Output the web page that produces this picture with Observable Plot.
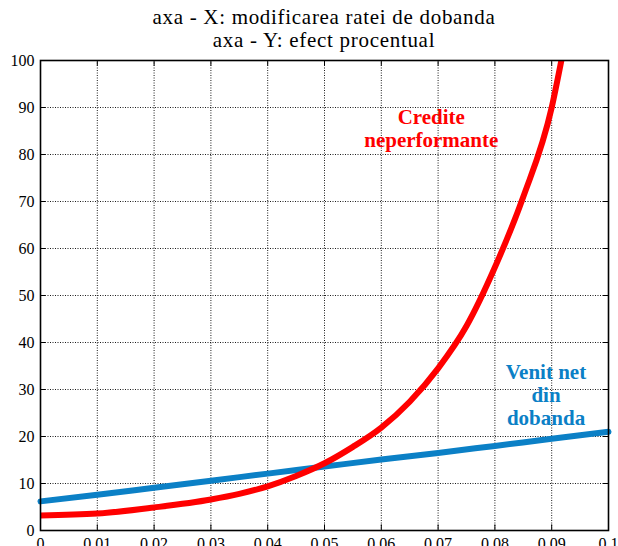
<!DOCTYPE html>
<html><head><meta charset="utf-8">
<script src="https://cdn.jsdelivr.net/npm/d3@7"></script>
<script src="https://cdn.jsdelivr.net/npm/@observablehq/plot@0.6"></script>
<style>
body{margin:0;background:#fff;}
#title{font-family:"Liberation Serif","DejaVu Serif","Times New Roman",serif;font-size:21px;letter-spacing:0.7px;line-height:23px;text-align:center;color:#000;padding-top:6px;padding-left:30px;height:46px;}
</style></head><body>
<div id="title">axa - X: modificarea ratei de dobanda<br>axa - Y: efect procentual</div>
<div id="chart"></div>
<script>
const titleLines = ["axa - X: modificarea ratei de dobanda", "axa - Y: efect procentual"];
const xTicks = [0, 0.01, 0.02, 0.03, 0.04, 0.05, 0.06, 0.07, 0.08, 0.09, 0.1];
const xTickLabels = ["0", "0.01", "0.02", "0.03", "0.04", "0.05", "0.06", "0.07", "0.08", "0.09", "0.1"];
const yTicks = [0, 10, 20, 30, 40, 50, 60, 70, 80, 90, 100];

// Credite neperformante (red)
const creditX = [0, 0.01, 0.02, 0.03, 0.035, 0.04, 0.045, 0.05, 0.055, 0.06, 0.065, 0.07, 0.075, 0.08, 0.085, 0.09, 0.0917];
const creditY = [3.2, 3.6, 4.9, 6.6, 7.8, 9.4, 11.6, 14.3, 17.8, 21.9, 27.4, 34.5, 43.5, 56, 71, 90, 100];

// Venit net din dobanda (blue)
const venitX = [0, 0.01, 0.02, 0.03, 0.04, 0.05, 0.06, 0.07, 0.08, 0.09, 0.1];
const venitY = [6.2, 7.6, 9.1, 10.6, 12.1, 13.6, 15.1, 16.5, 18.0, 19.5, 21.0];

const labels = [
  {x: 0.0688, y: 89.9, text: "Credite\nneperformante", color: "#ff0000"},
  {x: 0.089, y: 35.6, text: "Venit net\ndin\ndobanda", color: "#0b80c6"}
];

const credit = creditX.map((x, i) => ({x, y: creditY[i]}));
const venit = venitX.map((x, i) => ({x, y: venitY[i]}));
const serif = "'Liberation Serif','DejaVu Serif','Times New Roman',serif";

const plot = Plot.plot({
  width: 618,
  height: 494,
  marginLeft: 40,
  marginRight: 10,
  marginTop: 8,
  marginBottom: 16,
  style: {fontFamily: serif, fontSize: "16px", color: "#000", background: "#fff"},
  x: {domain: [0, 0.1], label: null},
  y: {domain: [0, 100], label: null},
  marks: [
    Plot.gridX(xTicks, {stroke: "#000", strokeOpacity: 1, strokeDasharray: "1,1.5", strokeWidth: 0.9}),
    Plot.gridY(yTicks, {stroke: "#000", strokeOpacity: 1, strokeDasharray: "1,1.5", strokeWidth: 0.9}),
    Plot.ruleX(xTicks, {x: d => d, y1: 0, y2: 1.2, stroke: "#000", strokeWidth: 1}),
    Plot.ruleX(xTicks, {x: d => d, y1: 98.8, y2: 100, stroke: "#000", strokeWidth: 1}),
    Plot.ruleY(yTicks, {y: d => d, x1: 0, x2: 0.0009, stroke: "#000", strokeWidth: 1}),
    Plot.ruleY(yTicks, {y: d => d, x1: 0.0991, x2: 0.1, stroke: "#000", strokeWidth: 1}),
    Plot.line(venit, {x: "x", y: "y", stroke: "#0b80c6", strokeWidth: 6, curve: "monotone-x"}),
    Plot.line(credit, {x: "x", y: "y", stroke: "#ff0000", strokeWidth: 6, curve: "monotone-x", clip: true}),
    Plot.text(labels, {x: "x", y: "y", text: "text", fill: d => d.color, fontFamily: serif, fontWeight: "bold", fontSize: 21, lineHeight: 1.08, lineAnchor: "top", textAnchor: "middle"}),
    Plot.frame({stroke: "#000", strokeWidth: 1.6}),
    Plot.axisX(xTicks, {tickFormat: (d, i) => xTickLabels[i], tickSize: 0, tickPadding: 7, label: null, fontFamily: serif}),
    Plot.axisY(yTicks, {tickSize: 0, tickPadding: 6, label: null, fontFamily: serif})
  ]
});
document.getElementById("chart").appendChild(plot);
</script>
</body></html>
